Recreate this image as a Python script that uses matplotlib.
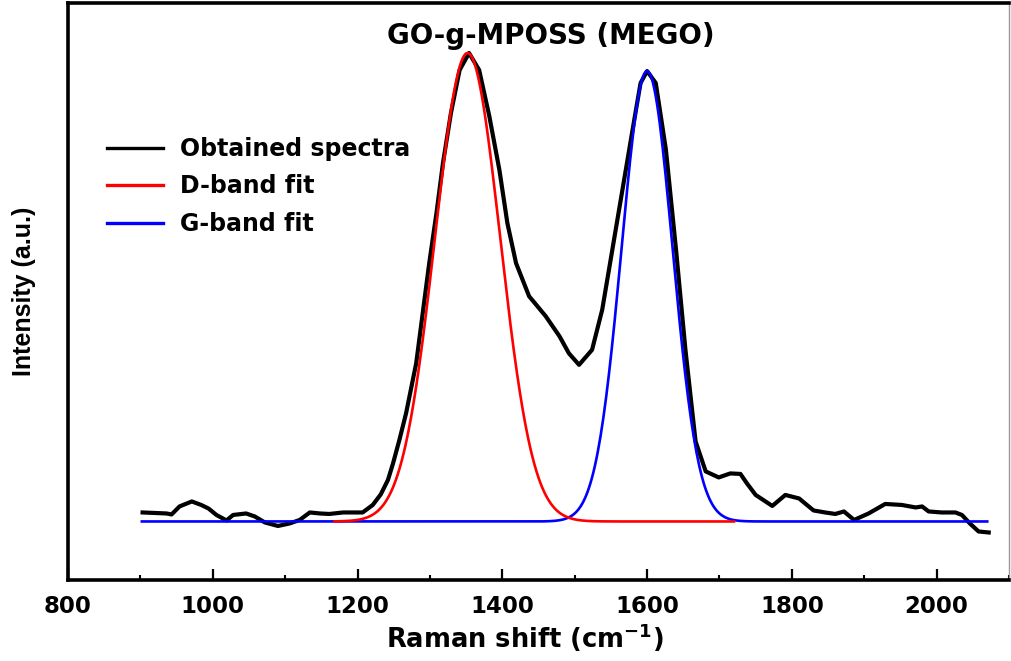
"""Raman spectrum of GO-g-MPOSS with D and G band Gaussian fits."""

import matplotlib
matplotlib.use("Agg")
import matplotlib.pyplot as plt
import numpy as np
from matplotlib.ticker import MultipleLocator

plt.rcParams["font.family"] = ["DejaVu Sans"]
plt.rcParams["font.weight"] = "bold"
plt.rcParams["mathtext.default"] = "bf"

# measured spectrum (baseline-referenced, arbitrary units)
shift = [903, 936, 943, 954, 971, 984, 994, 1005, 1019, 1028, 1046, 1058, 1072,
         1090, 1106, 1120, 1134, 1148, 1161, 1180, 1207, 1221, 1232, 1242, 1249,
         1258, 1267, 1281, 1290, 1299, 1309, 1318, 1329, 1341, 1354, 1368, 1382,
         1396, 1407, 1419, 1437, 1460, 1479, 1492, 1506, 1524, 1538, 1552, 1566,
         1580, 1591, 1600, 1612, 1626, 1640, 1653, 1667, 1681, 1699, 1715, 1729,
         1738, 1750, 1773, 1791, 1810, 1830, 1846, 1860, 1872, 1886, 1906, 1929,
         1952, 1971, 1980, 1989, 2007, 2026, 2035, 2046, 2058, 2072]
intensity = [9, 8, 7, 15, 20, 16.5, 13, 6.5, 1, 6.5, 8, 5, -1,
             -4.5, -2, 1.5, 9, 8, 7.5, 9, 9, 16.5, 27, 41.5, 58,
             82, 108, 158, 208, 258, 308, 358, 408, 451, 468, 451, 405,
             351, 298, 258, 225, 205, 185, 168, 156.5, 171.5, 211.5, 271.5, 331.5,
             391.5, 438, 450, 438, 371.5, 271.5, 171.5, 80, 50, 44, 48, 47.5,
             38, 26.5, 15.5, 26.5, 23, 11, 9, 7.5, 10, 1.5, 8, 17.5,
             16.5, 14, 15, 10, 9, 9, 6.5, -2, -10, -11]

# Gaussian band fits: centre (cm-1), height, FWHM, plotted range
d_band = dict(center=1352, height=468, fwhm=106, start=1168, stop=1720)
g_band = dict(center=1600, height=450, fwhm=83, start=902, stop=2070)


def gaussian_fit(band):
    x = np.linspace(band["start"], band["stop"], 600)
    sigma = band["fwhm"] / (2 * np.sqrt(2 * np.log(2)))
    return x, band["height"] * np.exp(-0.5 * ((x - band["center"]) / sigma) ** 2)


fig = plt.figure(figsize=(10.11, 6.61), dpi=100)
ax = fig.add_axes([0.0673, 0.1225, 0.9307, 0.873])

ax.plot(shift, intensity, color="black", lw=3.0, label="Obtained spectra", zorder=2)
gx, gy = gaussian_fit(g_band)
dx, dy = gaussian_fit(d_band)
ax.plot(gx, gy, color="#0000ff", lw=1.9, label="G-band fit", zorder=3)
ax.plot(dx, dy, color="#ff0000", lw=1.9, label="D-band fit", zorder=4)

ax.set_xlim(800, 2100)
ax.set_ylim(-58.5, 518)
ax.xaxis.set_major_locator(MultipleLocator(200))
ax.xaxis.set_minor_locator(MultipleLocator(100))
ax.set_yticks([])
ax.tick_params(axis="x", which="major", direction="in", length=8, width=1.6,
               labelsize=16.5, pad=11)
ax.tick_params(axis="x", which="minor", direction="in", length=3.5, width=1.5)

for side in ("left", "bottom", "top"):
    ax.spines[side].set_linewidth(2.6)
ax.spines["right"].set_linewidth(1.0)
ax.spines["right"].set_color("#999999")

ax.set_xlabel("Raman shift (cm$^{-1}$)", fontsize=18.5, fontweight="bold")
ax.xaxis.set_label_coords(0.486, -0.072)
ax.set_ylabel("Intensity (a.u.)", fontsize=18, fontweight="bold",
              family="Liberation Sans")
ax.yaxis.set_label_coords(-0.034, 0.5)
ax.text(0.513, 0.929, "GO-g-MPOSS (MEGO)", transform=ax.transAxes, ha="center",
        va="baseline", fontsize=20, fontweight="bold")

handles, labels = ax.get_legend_handles_labels()
order = [0, 2, 1]
leg = ax.legend([handles[i] for i in order], [labels[i] for i in order],
                loc="upper left", bbox_to_anchor=(0.0414, 0.768), frameon=False,
                borderaxespad=0, borderpad=0, handlelength=2.37,
                handletextpad=0.72, labelspacing=0.57,
                prop={"weight": "bold", "size": 17})
for line in leg.get_lines():
    line.set_linewidth(2.4)

fig.savefig("out.png", dpi=100)
